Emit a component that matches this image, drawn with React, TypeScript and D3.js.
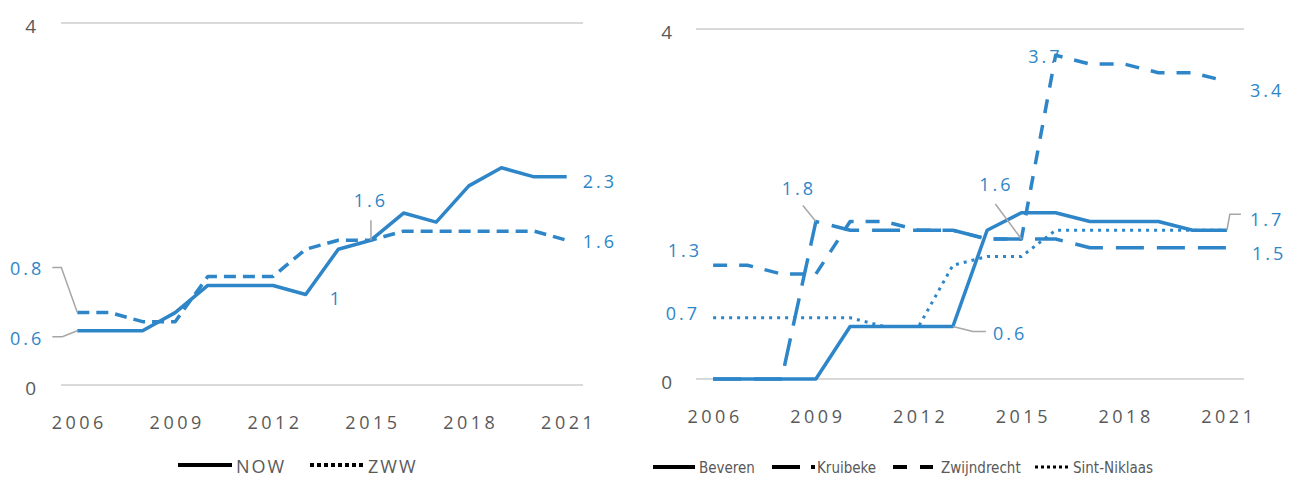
import React, { useRef, useEffect } from 'react';
import * as d3 from 'd3';

// categories
const years = [2006, 2007, 2008, 2009, 2010, 2011, 2012, 2013, 2014, 2015, 2016, 2017, 2018, 2019, 2020, 2021];
const tickYears = [2006, 2009, 2012, 2015, 2018, 2021];
const yTicks = [0, 4];

// left panel series
const nowValues = [0.6, 0.6, 0.6, 0.8, 1.1, 1.1, 1.1, 1.0, 1.5, 1.6, 1.9, 1.8, 2.2, 2.4, 2.3, 2.3];
const zwwValues = [0.8, 0.8, 0.7, 0.7, 1.2, 1.2, 1.2, 1.5, 1.6, 1.6, 1.7, 1.7, 1.7, 1.7, 1.7, 1.6];

// right panel series
const beverenValues = [0, 0, 0, 0, 0.6, 0.6, 0.6, 0.6, 1.7, 1.9, 1.9, 1.8, 1.8, 1.8, 1.7, 1.7];
const kruibekeValues = [0, 0, 0, 1.8, 1.7, 1.7, 1.7, 1.7, 1.6, 1.6, 1.6, 1.5, 1.5, 1.5, 1.5, 1.5];
const zwijndrechtValues = [1.3, 1.3, 1.2, 1.2, 1.8, 1.8, 1.7, 1.7, 1.6, 1.6, 3.7, 3.6, 3.6, 3.5, 3.5, 3.4];
const sintNiklaasValues = [0.7, 0.7, 0.7, 0.7, 0.7, 0.6, 0.6, 1.3, 1.4, 1.4, 1.7, 1.7, 1.7, 1.7, 1.7, 1.7];

const BLUE = '#2e86c8';
const TEXT = '#595959';
const GRID = '#d9d9d9';
const LEADER = '#a6a6a6';
const FONT = "'Open Sans', sans-serif";
const NARROW = "'Liberation Sans Narrow', 'DejaVu Sans Condensed', sans-serif";

type Series = { name: string; values: number[]; dash: string; width: number; legendDash: string; legendWidth: number };
type Label = { s: number; year: number; text: string; dx: number; dy: number; anchor: string; leader?: number[][] };
type Panel = {
  x0: number; x1: number; yBase: number; yTop: number;
  series: Series[]; labels: Label[];
  tickY: number; yTickX: number;
  legend: { x: number; y: number; len: number; textX: number; font: string; size: number; spacing: number }[];
};

const panels: Panel[] = [
  {
    x0: 61, x1: 583, yBase: 385, yTop: 23, tickY: 422, yTickX: 36,
    series: [
      { name: 'NOW', values: nowValues, dash: 'none', width: 3.5, legendDash: 'none', legendWidth: 4 },
      { name: 'ZWW', values: zwwValues, dash: '12,7', width: 3.5, legendDash: '4,3', legendWidth: 4 },
    ],
    labels: [
      { s: 0, year: 2006, text: '0.6', dx: -33, dy: 7, anchor: 'end', leader: [[0, 0], [-15, 6], [-25, 6]] },
      { s: 1, year: 2006, text: '0.8', dx: -33, dy: -45, anchor: 'end', leader: [[0, 0], [-16, -45], [-25, -45]] },
      { s: 0, year: 2013, text: '1', dx: 24, dy: 3, anchor: 'start' },
      { s: 0, year: 2015, text: '1.6', dx: 0, dy: -40, anchor: 'middle', leader: [[0, 0], [0, -20]] },
      { s: 0, year: 2021, text: '2.3', dx: 16, dy: 4, anchor: 'start' },
      { s: 1, year: 2021, text: '1.6', dx: 16, dy: 1, anchor: 'start' },
    ],
    legend: [
      { x: 178, y: 465, len: 54, textX: 236, font: FONT, size: 18, spacing: 2 },
      { x: 310, y: 465, len: 53, textX: 368, font: FONT, size: 18, spacing: 2 },
    ],
  },
  {
    x0: 696, x1: 1244, yBase: 379, yTop: 29, tickY: 416, yTickX: 672,
    series: [
      { name: 'Beveren', values: beverenValues, dash: 'none', width: 3.5, legendDash: 'none', legendWidth: 4 },
      { name: 'Kruibeke', values: kruibekeValues, dash: '28,13', width: 3.5, legendDash: '28,11', legendWidth: 4 },
      { name: 'Zwijndrecht', values: zwijndrechtValues, dash: '14,12', width: 3.5, legendDash: '14,13', legendWidth: 4 },
      { name: 'Sint-Niklaas', values: sintNiklaasValues, dash: '3,5', width: 3, legendDash: '3,3', legendWidth: 3 },
    ],
    labels: [
      { s: 2, year: 2006, text: '1.3', dx: -11, dy: -15, anchor: 'end' },
      { s: 3, year: 2006, text: '0.7', dx: -13, dy: -5, anchor: 'end' },
      { s: 1, year: 2009, text: '1.8', dx: -17, dy: -34, anchor: 'middle', leader: [[0, 0], [-13, -16]] },
      { s: 2, year: 2015, text: '1.6', dx: -25, dy: -55, anchor: 'middle', leader: [[0, 0], [-26, -35]] },
      { s: 0, year: 2013, text: '0.6', dx: 40, dy: 6, anchor: 'start', leader: [[0, 0], [20, 5], [33, 5]] },
      { s: 2, year: 2016, text: '3.7', dx: 7, dy: 1, anchor: 'end' },
      { s: 2, year: 2021, text: '3.4', dx: 23, dy: 8, anchor: 'start' },
      { s: 0, year: 2021, text: '1.7', dx: 23, dy: -11, anchor: 'start', leader: [[0, 0], [3, -16], [14, -16]] },
      { s: 1, year: 2021, text: '1.5', dx: 25, dy: 5, anchor: 'start' },
    ],
    legend: [
      { x: 653, y: 467, len: 42, textX: 699, font: NARROW, size: 15, spacing: 0 },
      { x: 772, y: 467, len: 43, textX: 817, font: NARROW, size: 15, spacing: 0 },
      { x: 893, y: 467, len: 40, textX: 941, font: NARROW, size: 15, spacing: 0 },
      { x: 1035, y: 467, len: 33, textX: 1073, font: NARROW, size: 15, spacing: 0 },
    ],
  },
];

const Charts: React.FC = () => {
  const svgRef = useRef<SVGSVGElement | null>(null);

  useEffect(() => {
    if (!svgRef.current) return;
    const svg = d3.select(svgRef.current);
    svg.selectAll('*').remove();

    panels.forEach(p => {
      const x = d3.scaleBand<number>().domain(years).range([p.x0, p.x1]);
      const cx = (yr: number) => x(yr)! + x.bandwidth() / 2;
      const y = d3.scaleLinear().domain([0, 4]).range([p.yBase, p.yTop]);
      const g = svg.append('g');

      // gridlines + y ticks
      g.selectAll('line.grid')
        .data(yTicks)
        .join('line')
        .attr('x1', p.x0).attr('x2', p.x1)
        .attr('y1', d => y(d)).attr('y2', d => y(d))
        .attr('stroke', GRID).attr('stroke-width', 2);

      g.selectAll('text.ytick')
        .data(yTicks)
        .join('text')
        .attr('x', p.yTickX)
        .attr('y', d => y(d) + 3)
        .attr('text-anchor', 'end')
        .attr('dominant-baseline', 'central')
        .attr('fill', TEXT)
        .style('font', `19px ${FONT}`)
        .text(d => d);

      // x ticks
      g.selectAll('text.xtick')
        .data(tickYears)
        .join('text')
        .attr('x', d => cx(d) + 2)
        .attr('y', p.tickY)
        .attr('text-anchor', 'middle')
        .attr('dominant-baseline', 'central')
        .attr('fill', TEXT)
        .style('font', `18px ${FONT}`)
        .style('letter-spacing', '3.5px')
        .text(d => d);

      // lines
      const line = d3.line<number>()
        .x((_, i) => cx(years[i]))
        .y(d => y(d));

      p.series.forEach(s => {
        g.append('path')
          .datum(s.values)
          .attr('fill', 'none')
          .attr('stroke', BLUE)
          .attr('stroke-width', s.width)
          .attr('stroke-dasharray', s.dash)
          .attr('stroke-linejoin', 'round')
          .attr('d', line);
      });

      // data labels
      p.labels.forEach(l => {
        const s = p.series[l.s];
        const px = cx(l.year);
        const py = y(s.values[years.indexOf(l.year)]);
        if (l.leader) {
          g.append('path')
            .attr('d', d3.line()(l.leader.map(([a, b]) => [px + a, py + b]) as [number, number][]))
            .attr('fill', 'none')
            .attr('stroke', LEADER)
            .attr('stroke-width', 1.5);
        }
        g.append('text')
          .attr('x', px + l.dx)
          .attr('y', py + l.dy)
          .attr('text-anchor', l.anchor)
          .attr('dominant-baseline', 'central')
          .attr('fill', BLUE)
          .style('font', `18px ${FONT}`)
          .style('letter-spacing', '3px')
          .text(l.text);
      });

      // legend
      p.series.forEach((s, i) => {
        const lg = p.legend[i];
        g.append('line')
          .attr('x1', lg.x).attr('x2', lg.x + lg.len)
          .attr('y1', lg.y).attr('y2', lg.y)
          .attr('stroke', '#000')
          .attr('stroke-width', s.legendWidth)
          .attr('stroke-dasharray', s.legendDash);
        g.append('text')
          .attr('x', lg.textX)
          .attr('y', lg.y + 1)
          .attr('dominant-baseline', 'central')
          .attr('fill', TEXT)
          .style('font', `${lg.size}px ${lg.font}`)
          .style('letter-spacing', `${lg.spacing}px`)
          .text(s.name);
      });
    });
  }, []);

  return (
    <svg
      ref={svgRef}
      width={1314}
      height={480}
      style={{ position: 'absolute', left: 0, top: 0, background: '#fff' }}
    />
  );
};

export default function App() {
  return <Charts />;
}
